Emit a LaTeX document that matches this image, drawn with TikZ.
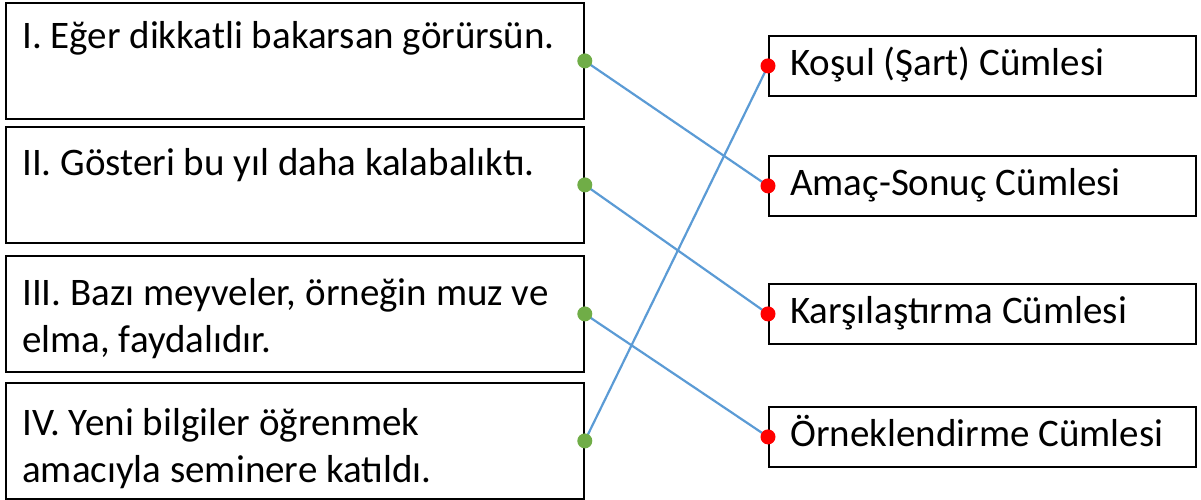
\documentclass[tikz,border=0pt]{standalone}
\usepackage{fontspec}
\setmainfont{Carlito}
\usetikzlibrary{positioning}
\definecolor{linkblue}{HTML}{5B9BD5}
\definecolor{dotgreen}{HTML}{70AD47}
\definecolor{dotred}{HTML}{FF0000}

\begin{document}
\begin{tikzpicture}[
      x=1pt, y=-1pt,
      sbox/.style={rectangle, draw=black, line width=1.8pt, minimum width=578pt,
                   minimum height=116pt, inner sep=0pt, anchor=north west},
      stext/.style={inner sep=0pt, align=left, font=\fontsize{39}{47}\selectfont},
      tbox/.style={rectangle, draw=black, line width=1.8pt, anchor=north west,
                   minimum width=427pt, minimum height=60pt, inner sep=0pt},
      ttext/.style={inner sep=0pt, font=\fontsize{39}{47}\selectfont},
      link/.style={linkblue, line width=2.2pt},
      gdot/.style={fill=dotgreen},
      rdot/.style={fill=dotred}
    ]
    \useasboundingbox (0,0) rectangle (1201,499);

    % sentences
    \node[sbox] (s1) at (5,2) {};
    \node[sbox] (s2) at (5,126) {};
    \node[sbox] (s3) at (5,255) {};
    \node[sbox] (s4) at (5,382) {};
    \node[stext, below right=13pt and 17pt of s1.north west] (l1) {\strut I. Eğer dikkatli bakarsan görürsün.};
    \node[stext, below right=16pt and 17pt of s2.north west] (l2) {\strut II. Gösteri bu yıl daha kalabalıktı.};
    \node[stext, below right=17pt and 17pt of s3.north west] (l3) {\strut III. Bazı meyveler, örneğin muz ve\\elma, faydalıdır.};
    \node[stext, below right=20pt and 17pt of s4.north west] (l4) {\strut IV. Yeni bilgiler öğrenmek\\amacıyla seminere katıldı.};

    % sentence types
    \node[tbox] (t1) at (768,35) {};
    \node[tbox] (t2) at (768,155) {};
    \node[tbox] (t3) at (768,283) {};
    \node[tbox] (t4) at (768,406) {};
    \node[ttext, right=22pt of t1.west, anchor=base west, yshift=-10pt] (k1) {Koşul (Şart) Cümlesi};
    \node[ttext, right=22pt of t2.west, anchor=base west, yshift=-10pt] (k2) {Amaç-Sonuç Cümlesi};
    \node[ttext, right=22pt of t3.west, anchor=base west, yshift=-10pt] (k3) {Karşılaştırma Cümlesi};
    \node[ttext, right=22pt of t4.west, anchor=base west, yshift=-10pt] (k4) {Örneklendirme Cümlesi};

    \draw[link] (s1.east) -- (t2.west);
    \draw[link] (s2.east) -- (t3.west);
    \draw[link] (s3.east) -- (t4.west);
    \draw[link] (s4.east) -- (t1.west);

    \foreach \n in {s1,s2,s3,s4}
      \fill[gdot] (\n.east) circle (7.5pt);
    \foreach \n in {t1,t2,t3,t4}
      \fill[rdot] (\n.west) circle (7.5pt);
  \end{tikzpicture}
\end{document}
